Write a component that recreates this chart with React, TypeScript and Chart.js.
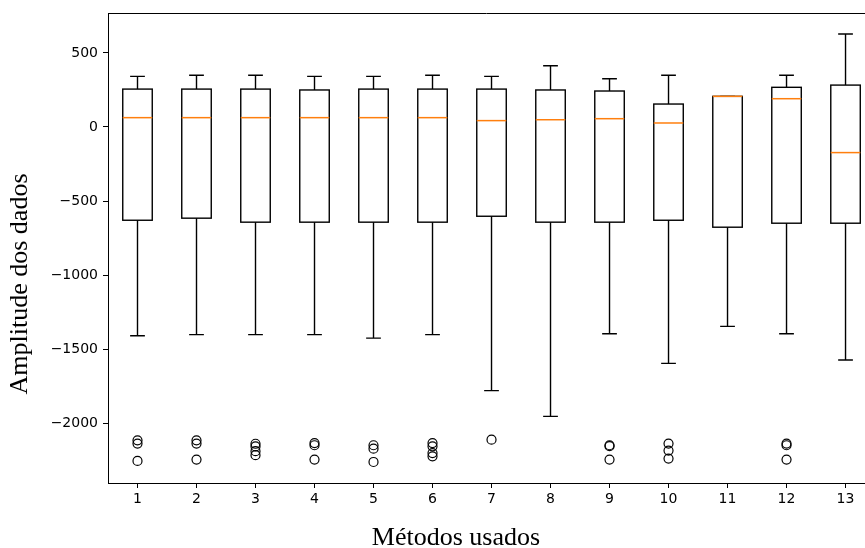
import React, { useEffect, useRef } from 'react';
import { Chart, registerables } from 'chart.js';

Chart.register(...registerables);

// Methods (x positions / categories)
const methods = [1, 2, 3, 4, 5, 6, 7, 8, 9, 10, 11, 12, 13];

// Box-plot statistics per method
const whiskerHigh = [342, 349, 349, 342, 342, 349, 342, 414, 326, 349, 207, 349, 628];
const q3 = [256, 256, 256, 250, 256, 256, 256, 250, 243, 155, 207, 268, 283];
const medians = [63, 63, 63, 63, 63, 63, 43, 49, 56, 27, 207, 191, -173];
const q1 = [-630, -616, -643, -643, -643, -643, -603, -643, -643, -630, -677, -650, -650];
const whiskerLow = [-1410, -1403, -1403, -1403, -1426, -1403, -1781, -1955, -1397, -1597, -1347, -1397, -1574];

// Outliers per method
const outliers: number[][] = [
  [-2117, -2139, -2256],
  [-2117, -2139, -2247],
  [-2140, -2158, -2190, -2217],
  [-2135, -2150, -2247],
  [-2150, -2173, -2263],
  [-2135, -2157, -2203, -2225],
  [-2112],
  [],
  [-2150, -2156, -2247],
  [-2139, -2186, -2240],
  [],
  [-2139, -2150, -2247],
  [],
];

// Axis ticks
const yTicks = [-2000, -1500, -1000, -500, 0, 500];
const xTicks = methods;

const xLabel = 'Métodos usados';
const yLabel = 'Amplitude dos dados';

const BOX_WIDTH = 0.5;
const CAP_WIDTH = 0.25;

export default function App() {
  const ref = useRef<HTMLCanvasElement>(null);

  useEffect(() => {
    if (!ref.current) return;
    const outlierPoints = outliers.flatMap((arr, i) => arr.map((v) => ({ x: methods[i], y: v })));

    const boxPlugin = {
      id: 'boxDraw',
      beforeDatasetsDraw(chart: any) {
        const { ctx, chartArea } = chart;
        const xs = chart.scales.x;
        const ys = chart.scales.y;
        ctx.save();
        ctx.beginPath();
        ctx.rect(chartArea.left, chartArea.top, chartArea.right - chartArea.left, chartArea.bottom - chartArea.top);
        ctx.clip();
        methods.forEach((m, i) => {
          const cx = xs.getPixelForValue(m);
          const hw = xs.getPixelForValue(m + BOX_WIDTH / 2) - cx;
          const cw = xs.getPixelForValue(m + CAP_WIDTH / 2) - cx;
          const yHi = ys.getPixelForValue(whiskerHigh[i]);
          const yQ3 = ys.getPixelForValue(q3[i]);
          const yMed = ys.getPixelForValue(medians[i]);
          const yQ1 = ys.getPixelForValue(q1[i]);
          const yLo = ys.getPixelForValue(whiskerLow[i]);
          ctx.strokeStyle = '#000';
          ctx.lineWidth = 1.4;
          ctx.strokeRect(cx - hw, yQ3, hw * 2, yQ1 - yQ3);
          ctx.beginPath();
          ctx.moveTo(cx, yQ3);
          ctx.lineTo(cx, yHi);
          ctx.moveTo(cx, yQ1);
          ctx.lineTo(cx, yLo);
          ctx.moveTo(cx - cw, yHi);
          ctx.lineTo(cx + cw, yHi);
          ctx.moveTo(cx - cw, yLo);
          ctx.lineTo(cx + cw, yLo);
          ctx.stroke();
          ctx.beginPath();
          ctx.strokeStyle = '#ff7f0e';
          ctx.lineWidth = 1.5;
          ctx.moveTo(cx - hw, yMed);
          ctx.lineTo(cx + hw, yMed);
          ctx.stroke();
        });
        ctx.restore();
      },
      afterDraw(chart: any) {
        const { ctx, chartArea } = chart;
        ctx.save();
        ctx.strokeStyle = '#000';
        ctx.lineWidth = 1;
        ctx.beginPath();
        ctx.moveTo(chartArea.left, chartArea.top + 0.5);
        ctx.lineTo(chartArea.right, chartArea.top + 0.5);
        ctx.stroke();
        ctx.fillStyle = '#000';
        ctx.font = '26px "Liberation Serif", "Times New Roman", serif';
        ctx.textAlign = 'center';
        ctx.textBaseline = 'alphabetic';
        ctx.fillText(xLabel, 456, 545);
        ctx.translate(27, 284);
        ctx.rotate(-Math.PI / 2);
        ctx.fillText(yLabel, 0, 0);
        ctx.restore();
      },
    };

    const chart = new Chart(ref.current, {
      type: 'scatter',
      data: {
        datasets: [
          {
            label: 'outliers',
            data: outlierPoints,
            pointStyle: 'circle',
            pointRadius: 4.5,
            pointBorderWidth: 1.2,
            borderColor: '#000',
            backgroundColor: 'rgba(0,0,0,0)',
            pointBackgroundColor: 'rgba(0,0,0,0)',
            pointBorderColor: '#000',
          },
        ],
      },
      options: {
        animation: false,
        responsive: false,
        events: [],
        layout: { autoPadding: false, padding: { top: 13, right: 0, left: 0, bottom: 0 } },
        plugins: { legend: { display: false }, tooltip: { enabled: false }, title: { display: false } },
        scales: {
          x: {
            type: 'linear',
            min: 0.5,
            max: 13.33,
            afterFit: (s: any) => {
              s.height = 65;
              s.paddingLeft = 0;
              s.paddingRight = 0;
            },
            afterBuildTicks: (s: any) => {
              s.ticks = xTicks.map((v) => ({ value: v }));
            },
            grid: { display: true, drawOnChartArea: false, drawTicks: true, tickLength: 5, tickColor: '#000', tickWidth: 1 },
            border: { display: true, color: '#000', width: 1 },
            ticks: {
              color: '#000',
              font: { family: '"DejaVu Sans", sans-serif', size: 14 },
              padding: 3,
              maxRotation: 0,
              autoSkip: false,
              callback: (v: any) => String(v),
            },
          },
          y: {
            type: 'linear',
            min: -2405,
            max: 770,
            afterFit: (s: any) => {
              s.width = 108;
              s.paddingTop = 0;
              s.paddingBottom = 0;
            },
            afterBuildTicks: (s: any) => {
              s.ticks = yTicks.map((v) => ({ value: v }));
            },
            grid: { display: true, drawOnChartArea: false, drawTicks: true, tickLength: 5, tickColor: '#000', tickWidth: 1 },
            border: { display: true, color: '#000', width: 1 },
            ticks: {
              color: '#000',
              font: { family: '"DejaVu Sans", sans-serif', size: 14 },
              padding: 5,
              autoSkip: false,
              callback: (v: any) => (Number(v) < 0 ? '\u2212' + String(Math.abs(Number(v))) : String(v)),
            },
          },
        },
      },
      plugins: [boxPlugin],
    });
    return () => chart.destroy();
  }, []);

  return (
    <div style={{ position: 'absolute', left: 0, top: 0, width: 865, height: 548, overflow: 'hidden', background: '#fff' }}>
      <canvas ref={ref} width={865} height={548} style={{ display: 'block', width: 865, height: 548 }} />
    </div>
  );
}
